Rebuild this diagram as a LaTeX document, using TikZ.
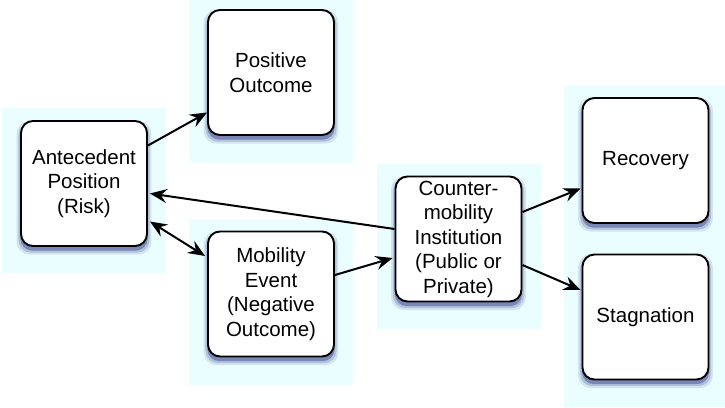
\documentclass[tikz,border=0pt]{standalone}
\usepackage{fontspec}
\setmainfont{Liberation Sans}
\usetikzlibrary{arrows.meta,shadows}
\definecolor{halocyan}{RGB}{234,254,255}
\definecolor{shadeblue}{RGB}{40,50,130}

\begin{document}
\begin{tikzpicture}[x=1pt, y=-1pt,
  >={Stealth[length=17pt, width=14pt, inset=6pt]},
  stage/.style={draw, rectangle, rounded corners=12pt, line width=1.9pt, fill=white,
    minimum width=126pt, minimum height=125pt, align=center,
    font=\fontsize{20.5}{24.5}\selectfont,
    drop shadow={shadow xshift=0pt, shadow yshift=-4pt, shadow scale=1.07, fill=shadeblue, opacity=0.12},
    drop shadow={shadow xshift=0pt, shadow yshift=-4pt, shadow scale=1.04, fill=shadeblue, opacity=0.2},
    drop shadow={shadow xshift=0pt, shadow yshift=-4pt, shadow scale=1.01, fill=shadeblue, opacity=0.4}},
  halo/.style={fill=halocyan, draw=none},
  link/.style={->, line width=2pt}]
\useasboundingbox (0,0) rectangle (725,407);

% pale backdrops behind the groups
\fill[halo] (2,108) rectangle (166,273);
\fill[halo] (189,0) rectangle (353,163);
\fill[halo] (189,219) rectangle (353,385);
\fill[halo] (377,164) rectangle (541,329);
\fill[halo] (564,86) rectangle (725,407);

% stages
\node[stage] (risk) at (84,183.5) {Antecedent\\Position\\(Risk)};
\node[stage] (good) at (271,72.5) {Positive\\Outcome};
\node[stage] (event) at (271,294) {Mobility\\Event\\(Negative\\Outcome)};
\node[stage] (inst) at (458.5,239) {Counter-\\mobility\\Institution\\(Public or\\Private)};
\node[stage] (recov) at (645.5,160.5) {Recovery};
\node[stage] (stag) at (645.5,317) {Stagnation};

% transitions
\draw[link] ([yshift=38pt]risk.east) -- ([yshift=-40pt]good.west);
\draw[link, <->] ([yshift=-38pt, xshift=2pt]risk.east) -- ([yshift=38pt, xshift=-2pt]event.west);
\draw[link] ([yshift=10pt]inst.west) -- ([yshift=-10pt, xshift=2pt]risk.east);
\draw[link] ([yshift=19pt]event.east) -- ([yshift=-19pt, xshift=-2pt]inst.west);
\draw[link] ([yshift=27pt]inst.east) -- ([yshift=-28pt, xshift=-1pt]recov.west);
\draw[link] ([yshift=-26pt]inst.east) -- ([yshift=27pt, xshift=-1pt]stag.west);
\end{tikzpicture}
\end{document}
